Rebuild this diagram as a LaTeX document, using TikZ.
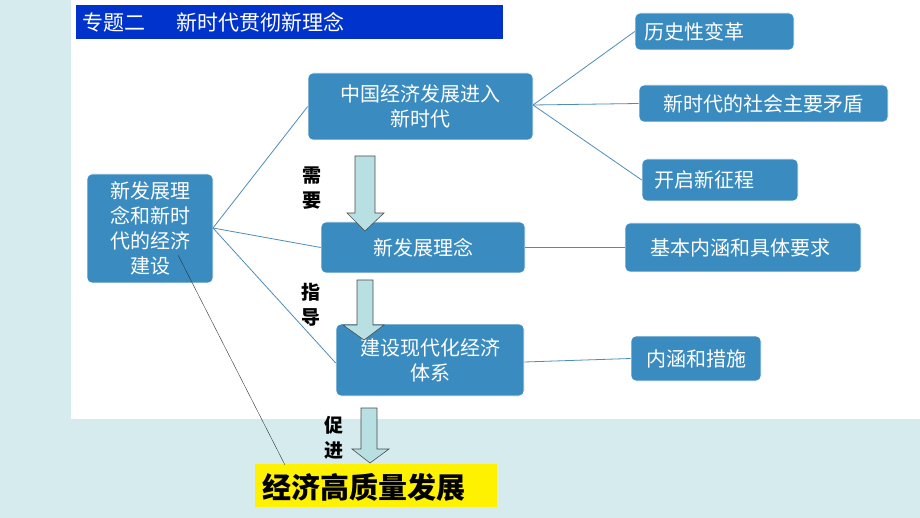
\documentclass[tikz,border=0pt]{standalone}
\usepackage{fontspec}
\setmainfont{Noto Sans CJK SC}
\begin{document}
\begin{tikzpicture}[x=1pt,y=-1pt,
 box/.style={draw=white,line width=0.6pt,fill=bx,rounded corners=5pt,text=white,align=center,inner sep=0pt,font=\fontsize{20}{25}\selectfont},
 lk/.style={draw=ln,line width=0.8pt},
 barrow/.style={fill=ar,draw=black!70,line width=0.6pt},
 lab/.style={font=\fontsize{19}{25}\selectfont\bfseries,align=center,inner sep=0pt}]
\definecolor{bx}{HTML}{3A8BBF}\definecolor{ln}{HTML}{4F8DB8}\definecolor{ar}{HTML}{B8DFE2}
\definecolor{bg}{HTML}{D6EBEE}\definecolor{tb}{HTML}{0033CC}
\useasboundingbox (0,0) rectangle (920,518);
\fill[bg] (0,0) rectangle (920,518);
\fill[white] (71,0) rectangle (920,419);
\fill[tb] (76,5) rectangle (503,39);
\node[anchor=west,text=white,font=\fontsize{21}{24}\selectfont,inner sep=0pt] (title) at (82,22) {专题二\hspace{1.5em}新时代贯彻新理念};
\node[box,minimum width=126,minimum height=109] (A) at (150,228.5) {新发展理\\念和新时\\代的经济\\建设};
\node[box,minimum width=225,minimum height=67] (B) at (420.5,106.5) {中国经济发展进入\\新时代};
\node[box,minimum width=204,minimum height=51] (C) at (423,247.5) {新发展理念};
\node[box,minimum width=188,minimum height=72] (D) at (430,360) {建设现代化经济\\体系};
\node[box,minimum width=159,minimum height=37] (R1) at (714.5,31.5) {\hspace{-2em}历史性变革};
\node[box,minimum width=249,minimum height=37] (R2) at (763.5,103.5) {新时代的社会主要矛盾};
\node[box,minimum width=156,minimum height=42] (R3) at (720,180) {\hspace{-1.6em}开启新征程};
\node[box,minimum width=236,minimum height=49] (R4) at (743,247.5) {\hspace{-0.3em}基本内涵和具体要求};
\node[box,minimum width=130,minimum height=45] (R5) at (696,358.5) {内涵和措施};
\node[fill=yellow,minimum width=242,minimum height=43,inner sep=0pt] (Y) at (376,485.5) {};
\node[anchor=west,inner sep=0pt,font=\fontsize{29}{32}\selectfont\bfseries] (Yt) at (262,487) {经济高质量发展};
\coordinate (a1) at (213,228);
\draw[lk] (a1) -- (B.west); \draw[lk] (a1) -- (C.west); \draw[lk] (a1) -- ([yshift=-3]D.west);
\coordinate (b1) at (533,105);
\draw[lk] (b1) -- (R1.west); \draw[lk] (b1) -- (R2.west); \draw[lk] (b1) -- (R3.west);
\draw[lk] (C.east) -- (R4.west); \draw[lk] ([yshift=-2]D.east) -- (R5.west);
\coordinate (t0) at (178,255); \coordinate (t1) at (285,465);
\draw[black!80,line width=0.4pt] (t0) -- (t1);
\draw[barrow] (355,156) -- (375,156) -- (375,213) -- (384,213) -- (365,231) -- (347,213) -- (355,213) -- cycle;
\draw[barrow] (357,280) -- (373,280) -- (373,325) -- (384,325) -- (364,340) -- (343,325) -- (357,325) -- cycle;
\draw[barrow] (361,408) -- (377,408) -- (377,449) -- (389,449) -- (370,463) -- (352,449) -- (361,449) -- cycle;
\node[lab] (l1) at (312,188) {需\\要};
\node[lab] (l2) at (311,305) {指\\导};
\node[lab] (l3) at (334,438) {促\\进};
\end{tikzpicture}
\end{document}
